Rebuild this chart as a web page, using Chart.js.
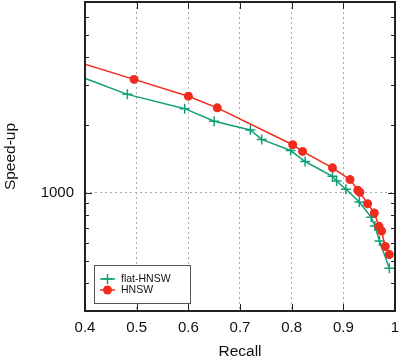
<!DOCTYPE html>
<html>
<head>
<meta charset="utf-8">
<script src="https://cdn.jsdelivr.net/npm/chart.js@4.4.1/dist/chart.umd.min.js"></script>
<style>
  html, body { margin: 0; padding: 0; background: #fff; }
</style>
</head>
<body>
<canvas id="chart" width="399" height="359"></canvas>
<script>
// data (first point of each series lies left of the visible range)
const recallFlat = [0.35, 0.482, 0.593, 0.650, 0.720, 0.742, 0.798, 0.826, 0.879, 0.887, 0.905, 0.931, 0.954, 0.961, 0.970, 0.989];
const speedFlat  = [3550, 2730, 2360, 2075, 1900, 1725, 1540, 1377, 1185, 1128, 1038, 912, 780, 713, 612, 464];
const recallHnsw = [0.35, 0.495, 0.600, 0.656, 0.802, 0.821, 0.879, 0.913, 0.928, 0.932, 0.947, 0.960, 0.969, 0.974, 0.981, 0.989];
const speedHnsw  = [4030, 3180, 2680, 2380, 1634, 1526, 1291, 1145, 1027, 1006, 896, 815, 711, 678, 579, 533];

const xTicks = [0.4, 0.5, 0.6, 0.7, 0.8, 0.9, 1];
const yTicks = [300, 400, 500, 600, 700, 800, 900, 1000, 2000, 3000, 4000, 5000, 6000, 7000];
const yLabels = [1000];
const seriesNames = ["flat-HNSW", "HNSW"];

const GREEN = "#11a077";
const RED = "#ee2b1c";
const FONT = "'Liberation Sans', Arial, sans-serif";

const toPoints = (xs, ys) => xs.map((x, i) => ({ x: x, y: ys[i] }));

const frame = {
  id: "frame",
  afterDraw(chart) {
    const { ctx, chartArea: a, scales: { x, y } } = chart;
    ctx.save();
    ctx.strokeStyle = "#222";
    ctx.lineWidth = 1;
    ctx.beginPath();
    xTicks.forEach(v => {
      const px = Math.round(x.getPixelForValue(v)) + 0.5;
      ctx.moveTo(px, a.bottom); ctx.lineTo(px, a.bottom - 7);
      ctx.moveTo(px, a.top); ctx.lineTo(px, a.top + 7);
    });
    yTicks.forEach(v => {
      const py = Math.round(y.getPixelForValue(v)) + 0.5;
      const len = yLabels.includes(v) ? 7 : 4;
      ctx.moveTo(a.left, py); ctx.lineTo(a.left + len, py);
      ctx.moveTo(a.right, py); ctx.lineTo(a.right - len, py);
    });
    ctx.stroke();
    ctx.lineWidth = 2;
    ctx.strokeRect(a.left, a.top, a.right - a.left, a.bottom - a.top);

    // legend box
    const bx = a.left + 9, by = a.bottom - 46, bw = 96, bh = 38;
    ctx.fillStyle = "#fff";
    ctx.fillRect(bx, by, bw, bh);
    ctx.lineWidth = 1;
    ctx.strokeStyle = "#555";
    ctx.strokeRect(bx + 0.5, by + 0.5, bw, bh);
    ctx.font = "10.5px " + FONT;
    ctx.textBaseline = "middle";
    const rows = [
      { name: seriesNames[0], color: GREEN, y: by + 14 },
      { name: seriesNames[1], color: RED, y: by + 25 }
    ];
    rows.forEach(r => {
      ctx.strokeStyle = r.color;
      ctx.lineWidth = 1.5;
      ctx.beginPath();
      ctx.moveTo(bx + 6, r.y); ctx.lineTo(bx + 21, r.y);
      ctx.stroke();
      const cx = bx + 13.5;
      if (r.color === GREEN) {
        ctx.beginPath();
        ctx.moveTo(cx - 5, r.y); ctx.lineTo(cx + 5, r.y);
        ctx.moveTo(cx, r.y - 5); ctx.lineTo(cx, r.y + 5);
        ctx.stroke();
      } else {
        ctx.fillStyle = RED;
        ctx.beginPath();
        ctx.arc(cx, r.y, 4.5, 0, Math.PI * 2);
        ctx.fill();
      }
      ctx.fillStyle = "#111";
      ctx.fillText(r.name, bx + 27, r.y);
    });
    ctx.restore();
  }
};

const ctx = document.getElementById("chart").getContext("2d");
new Chart(ctx, {
  type: "line",
  data: {
    datasets: [
      {
        label: seriesNames[0],
        data: toPoints(recallFlat, speedFlat),
        borderColor: GREEN,
        backgroundColor: GREEN,
        borderWidth: 1.5,
        pointStyle: "cross",
        pointRadius: 5,
        pointBorderWidth: 1.5,
        order: 2
      },
      {
        label: seriesNames[1],
        data: toPoints(recallHnsw, speedHnsw),
        borderColor: RED,
        backgroundColor: RED,
        borderWidth: 1.5,
        pointStyle: "circle",
        pointRadius: 4.5,
        pointBorderWidth: 0,
        order: 1
      }
    ]
  },
  options: {
    responsive: false,
    animation: false,
    devicePixelRatio: 1,
    layout: { autoPadding: false, padding: { top: 2, right: 4, left: 0, bottom: 0 } },
    plugins: { legend: { display: false }, tooltip: { enabled: false } },
    scales: {
      x: {
        type: "linear",
        min: 0.4,
        max: 1,
        afterBuildTicks: s => { s.ticks = xTicks.map(v => ({ value: v })); },
        afterFit: s => { s.height = 48; s.paddingLeft = 0; s.paddingRight = 0; },
        ticks: {
          color: "#111",
          padding: 8,
          maxRotation: 0,
          font: { family: FONT, size: 15 },
          callback: v => (v === 1 ? "1" : v.toFixed(1))
        },
        grid: {
          drawTicks: false,
          lineWidth: 1,
          color: c => (c.tick && c.tick.value > 0.45 && c.tick.value < 0.95 ? "#aaa" : "transparent")
        },
        border: { display: false, dash: [2, 3] },
        title: {
          display: true,
          text: "Recall",
          color: "#111",
          font: { family: FONT, size: 15.5, lineHeight: 1 },
          padding: { top: 0, bottom: 0 }
        }
      },
      y: {
        type: "logarithmic",
        min: 300,
        max: 7000,
        afterBuildTicks: s => { s.ticks = yTicks.map(v => ({ value: v })); },
        afterFit: s => { s.width = 85; s.paddingTop = 0; s.paddingBottom = 0; },
        ticks: {
          color: "#111",
          padding: 11,
          autoSkip: false,
          font: { family: FONT, size: 15 },
          callback: v => (yLabels.includes(v) ? String(v) : "")
        },
        grid: {
          drawTicks: false,
          lineWidth: 1,
          color: c => (c.tick && yLabels.includes(c.tick.value) ? "#aaa" : "transparent")
        },
        border: { display: false, dash: [2, 3] },
        title: {
          display: true,
          text: "Speed-up",
          color: "#111",
          font: { family: FONT, size: 15.5, lineHeight: 1 },
          padding: { top: 3, bottom: 0 }
        }
      }
    }
  },
  plugins: [frame]
});
</script>
</body>
</html>
